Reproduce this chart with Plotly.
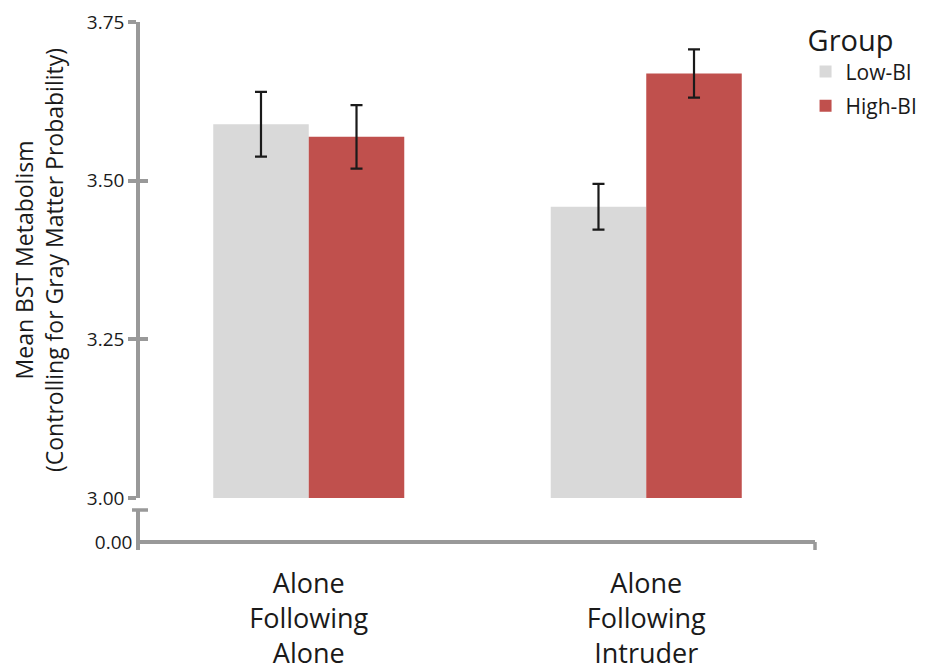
import plotly.graph_objects as go

categories = ["Alone<br>Following<br>Alone", "Alone<br>Following<br>Intruder"]
low_bi = [3.589, 3.459]
low_bi_err = [0.051, 0.036]
high_bi = [3.569, 3.669]
high_bi_err = [0.050, 0.038]
main_ticks = [3.00, 3.25, 3.50, 3.75]
low_ticks = [0]
low_tick_text = ["0.00"]

W, H = 925, 671
OFF = 8  # page body offset
L, R, T = 140 - OFF, 110 + OFF, 22 - OFF
plot_h = 528
B = H - T - plot_h
plot_w = W - L - R

axis_col = "#999999"
text_col = "#1a1a1a"
font_fam = "Open Sans, Noto Sans, sans-serif"

def py(px):  # page pixel y (without offset) -> paper fraction
    return (22 + plot_h - px) / plot_h

fig = go.Figure()
fig.add_trace(go.Bar(
    x=categories, y=low_bi, name="Low-BI", legendgroup="low",
    marker=dict(color="#d9d9d9", line=dict(width=0)),
    error_y=dict(type="data", array=low_bi_err, color="#1a1a1a", thickness=2.2, width=6),
))
fig.add_trace(go.Bar(
    x=categories, y=high_bi, name="High-BI", legendgroup="high",
    marker=dict(color="#c0504d", line=dict(width=0)),
    error_y=dict(type="data", array=high_bi_err, color="#1a1a1a", thickness=2.2, width=6),
))

y_main_bottom = py(498)
y_low_top = py(510)
x_axis_pos = py(542)

fig.update_layout(
    width=W, height=H,
    margin=dict(l=L, r=R, t=T, b=B, autoexpand=False),
    paper_bgcolor="white", plot_bgcolor="white",
    barmode="group", bargap=0.434, bargroupgap=0,
    font=dict(family=font_fam, color=text_col),
    showlegend=True,
    legend=dict(
        x=0.986, xanchor="left", y=1.016, yanchor="top",
        title=dict(text="Group", font=dict(size=29, color=text_col)),
        font=dict(size=21, color=text_col),
        bgcolor="rgba(0,0,0,0)",
        itemwidth=30, tracegroupgap=4,
    ),
    xaxis=dict(
        anchor="free", position=x_axis_pos,
        showline=True, linecolor=axis_col, linewidth=3.5,
        ticks="", tickfont=dict(size=27, color=text_col),
        showgrid=False, zeroline=False,
        ticklabelstandoff=17,
    ),
    yaxis=dict(
        domain=[y_main_bottom, 1], range=[3.0, 3.75],
        tickvals=main_ticks, tickformat=".2f",
        ticks="outside", ticklen=8, tickwidth=3.5, tickcolor=axis_col,
        showline=True, linecolor=axis_col, linewidth=3.5,
        showgrid=False, zeroline=False,
        tickfont=dict(size=19, color=text_col),
        title=dict(text="Mean BST Metabolism<br>(Controlling for Gray Matter Probability)",
                   font=dict(size=23, color=text_col), standoff=19),
    ),
    yaxis3=dict(
        overlaying="y", anchor="x", side="left", range=[3.0, 3.75],
        tickvals=main_ticks, showticklabels=False,
        ticks="inside", ticklen=8, tickwidth=3.5, tickcolor=axis_col,
        showline=False, showgrid=False, zeroline=False,
    ),
    yaxis2=dict(
        domain=[0, y_low_top], range=[-8, 32],
        tickvals=low_ticks, ticktext=low_tick_text, ticks="",
        showline=True, linecolor=axis_col, linewidth=3.5,
        showgrid=False, zeroline=False,
        tickfont=dict(size=19, color=text_col),
    ),
)

fig.add_trace(go.Scatter(x=categories, y=[None, None], yaxis="y2", showlegend=False, hoverinfo="skip"))
fig.add_trace(go.Scatter(x=categories, y=[None, None], yaxis="y3", showlegend=False, hoverinfo="skip"))

# break tick at top of lower axis segment
fig.add_shape(type="line", xref="paper", yref="y2 domain",
              x0=-8 / plot_w, x1=8 / plot_w, y0=1, y1=1,
              line=dict(color=axis_col, width=3.5))
# small downward tick at right end of x axis
fig.add_shape(type="line", xref="x domain", yref="paper",
              x0=1, x1=1, y0=x_axis_pos, y1=0,
              line=dict(color=axis_col, width=3.5))

fig.write_html("out.html")
